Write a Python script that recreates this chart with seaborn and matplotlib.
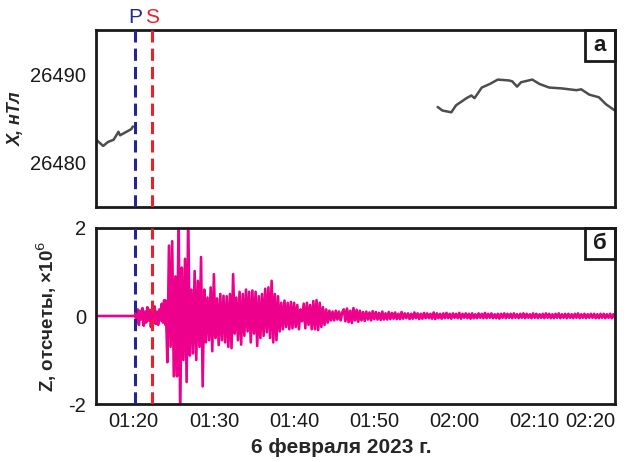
import numpy as np
import pandas as pd
import seaborn as sns
import matplotlib.pyplot as plt
from matplotlib.patches import Rectangle

# время в минутах после 01:00
x1_time = [75.3, 75.4, 76.2, 76.8, 77.5, 78.1, 78.3, 78.7, 79.3, 79.7, 79.9]
x1_val = [26482.5, 26482.54, 26481.9, 26482.35, 26482.6, 26483.5, 26483.1, 26483.3, 26483.6, 26483.8, 26484.1]
x2_time = [117.9, 118.5, 119.6, 120.2, 121.5, 122.1, 122.5, 123.4, 124.4, 125.4, 126.8, 127.2,
           127.8, 128.3, 129.7, 130.6, 131.8, 133.4, 135.2, 135.8, 136.8, 138.0, 138.9, 140.0]
x2_val = [26486.3, 26485.9, 26485.7, 26486.5, 26487.3, 26487.6, 26487.3, 26488.5, 26488.9, 26489.4,
          26489.3, 26489.2, 26488.6, 26489.1, 26489.4, 26488.9, 26488.5, 26488.4, 26488.2, 26488.3,
          26487.7, 26487.4, 26486.6, 26485.9]

# Z, отсчеты (x10^6): до P - ноль, далее колебания
z_pre_time = [75.3, 80.15]
z_pre_val = [0.0, 0.0]
z_p_start, z_p_step = 80.2, 0.15
z_p_val = [0.05, -0.12, 0.15, -0.2, 0.12, -0.08, 0.18, -0.22, 0.1, -0.15, 0.2, -0.1, 0.14,
           -0.25, 0.08, -0.12, 0.22, -0.18, 0.1, -0.2, 0.15, -0.1, 0.28, -0.15, 0.36, -0.2]
z_main_start, z_main_step = 84.0, 0.2
z_main_val = [0.35, -1.05, 1.6, -0.7, 1.7, -1.37, 0.9, -1.37, 2.3, -2.3,
              1.1, -1.0, 1.3, -1.5, 2.3, -0.9, 0.6, -0.85, 1.02, -1.0,
              0.8, -0.7, 1.34, -1.6, 0.6, -0.6, 0.42, -0.55, 0.65, -0.8,
              0.95, -0.5, 0.4, -0.66, 0.5, -0.55, 0.46, -0.6, 0.45, -0.7,
              0.5, -0.73, 0.95, -0.4, 0.42, -0.55, 0.55, -0.65, 0.5, -0.45,
              0.6, -0.35, 0.55, -0.6, 0.58, -0.4, 0.55, -0.68, 0.45, -0.5,
              0.5, -0.45, 0.62, -0.37, 0.65, -0.5, 0.8, -0.6, 0.5, -0.55,
              0.45, -0.35, 0.3, -0.3, 0.35, -0.25, 0.3, -0.3, 0.32, -0.28,
              0.3, -0.25, 0.25, -0.3, 0.15, -0.12, 0.28, -0.28, 0.3, -0.2,
              0.25, -0.3, 0.34, -0.3, 0.36, -0.32, 0.3, -0.25, 0.2, -0.2,
              0.15, -0.15, 0.12, -0.1, 0.1, -0.1, 0.12, -0.08, 0.1, -0.1, 0.08]
z_coda_start, z_coda_step = 106.2, 0.2
z_coda_val = [0.15, -0.12, 0.17, -0.14, 0.12, -0.16, 0.18, -0.1, 0.14, -0.13,
              0.12, -0.1, 0.09, -0.11, 0.1, -0.08, 0.08, -0.1, 0.11, -0.07,
              0.09, -0.08, 0.07, -0.09, 0.1, -0.08, 0.06, -0.08, 0.09, -0.07,
              0.07, -0.06, 0.08, -0.07, 0.05, -0.07, 0.09, -0.06, 0.06, -0.05,
              0.06, -0.07, 0.05, -0.06, 0.08, -0.05, 0.06, -0.07, 0.05, -0.06,
              0.07, -0.05, 0.06, -0.05, 0.05, -0.06, 0.08, -0.07, 0.06, -0.05,
              0.05, -0.06, 0.06, -0.05, 0.07, -0.05, 0.05, -0.06, 0.06, -0.04,
              0.05, -0.05, 0.07, -0.06, 0.05, -0.04, 0.06, -0.05, 0.05, -0.06,
              0.06, -0.05, 0.04, -0.05, 0.06, -0.04, 0.05, -0.05, 0.07, -0.05,
              0.05, -0.04, 0.06, -0.05, 0.04, -0.05, 0.05, -0.06, 0.05, -0.04,
              0.06, -0.05, 0.05, -0.04, 0.05, -0.05, 0.06, -0.04, 0.04, -0.05,
              0.05, -0.04, 0.06, -0.05, 0.05, -0.04, 0.04, -0.05, 0.06, -0.04,
              0.05, -0.05, 0.04, -0.04, 0.05, -0.05, 0.06, -0.04, 0.05, -0.05,
              0.04, -0.05, 0.05, -0.04, 0.06, -0.05, 0.04, -0.04, 0.05, -0.05,
              0.05, -0.04, 0.04, -0.05, 0.05, -0.04, 0.06, -0.05, 0.04, -0.04,
              0.05, -0.05, 0.04, -0.04, 0.05, -0.04, 0.05, -0.05, 0.04, -0.05,
              0.05, -0.04, 0.05, -0.05, 0.04, -0.04, 0.05, -0.05, 0.04, -0.04]

p_time, s_time = 80.15, 82.3
tick_times = [80, 90, 100, 110, 120, 130, 140]
tick_labels = ['01:20', '01:30', '01:40', '01:50', '02:00', '02:10', '02:20']

sns.set_style('white')
plt.rcParams['font.family'] = ['Liberation Sans', 'DejaVu Sans']

df_x = pd.DataFrame({
    't': x1_time + x2_time,
    'X': x1_val + x2_val,
    'seg': [1] * len(x1_time) + [2] * len(x2_time),
})
z_t = (z_pre_time
       + list(z_p_start + z_p_step * np.arange(len(z_p_val)))
       + list(z_main_start + z_main_step * np.arange(len(z_main_val)))
       + list(z_coda_start + z_coda_step * np.arange(len(z_coda_val))))
z_v = z_pre_val + z_p_val + z_main_val + z_coda_val
df_z = pd.DataFrame({'t': z_t, 'Z': z_v})

fig = plt.figure(figsize=(6.29, 4.62), dpi=100)
ax1 = fig.add_axes([0.1526, 0.552, 0.825, 0.383])
ax2 = fig.add_axes([0.1526, 0.1255, 0.825, 0.381])

sns.lineplot(data=df_x, x='t', y='X', units='seg', estimator=None, color='#4d4d4d',
             lw=1.8, ax=ax1)
sns.lineplot(data=df_z, x='t', y='Z', estimator=None, sort=False, color='#ec008c',
             lw=1.9, ax=ax2)

for ax in (ax1, ax2):
    ax.set_xlim(75.3, 140)
    ax.axvline(p_time, color='#25278f', lw=2.2, ls=(0, (4, 2)), zorder=5)
    ax.axvline(s_time, color='#ee2027', lw=2.2, ls=(0, (4, 2)), zorder=5)
    for sp in ax.spines.values():
        sp.set_linewidth(2.0)
        sp.set_color('#1a1a1a')
    ax.set_xticks(tick_times)
    ax.tick_params(axis='x', direction='in', length=6, width=1.6, colors='#1a1a1a')
    ax.tick_params(axis='y', direction='out', length=5, width=1.6, colors='#1a1a1a',
                   labelsize=14.5, pad=2)

ax1.set_ylim(26475, 26495)
ax1.set_yticks([26480, 26490])
ax1.set_xticklabels([])
ax1.set_xlabel('')
ax1.set_ylabel('X, нТл', fontsize=13, fontweight='bold', fontstyle='italic', labelpad=4)

ax2.set_ylim(-2, 2)
ax2.set_yticks([-2, 0, 2])
ax2.set_yticklabels(['-2', '0', '2'])
ax2.set_xticklabels(tick_labels, fontsize=14.5)
ax2.get_xticklabels()[-1].set_ha('right')
ax2.tick_params(axis='x', pad=6)
ax2.set_ylabel('Z, отсчеты, ×10$^6$', fontsize=13.5, fontweight='bold', labelpad=7)
ax2.set_xlabel('6 февраля 2023 г.', fontsize=15, fontweight='bold', x=0.472, labelpad=5)

for ax, letter in ((ax1, 'а'), (ax2, 'б')):
    w, h = 30 / 519, 31 / 177
    ax.add_patch(Rectangle((1 - w, 1 - h), w, h, transform=ax.transAxes, fill=False,
                           lw=2.0, ec='#1a1a1a', clip_on=False, zorder=6))
    ax.text(1 - w / 2, 1 - h / 2, letter, transform=ax.transAxes, ha='center', va='center',
            fontsize=16, fontweight='bold', color='#1a1a1a')

ax1.text(p_time, 26495.3, 'P', color='#25278f', fontsize=15, ha='center', va='bottom')
ax1.text(s_time, 26495.3, 'S', color='#ee2027', fontsize=15, ha='center', va='bottom')

fig.savefig('out.png', dpi=100)
